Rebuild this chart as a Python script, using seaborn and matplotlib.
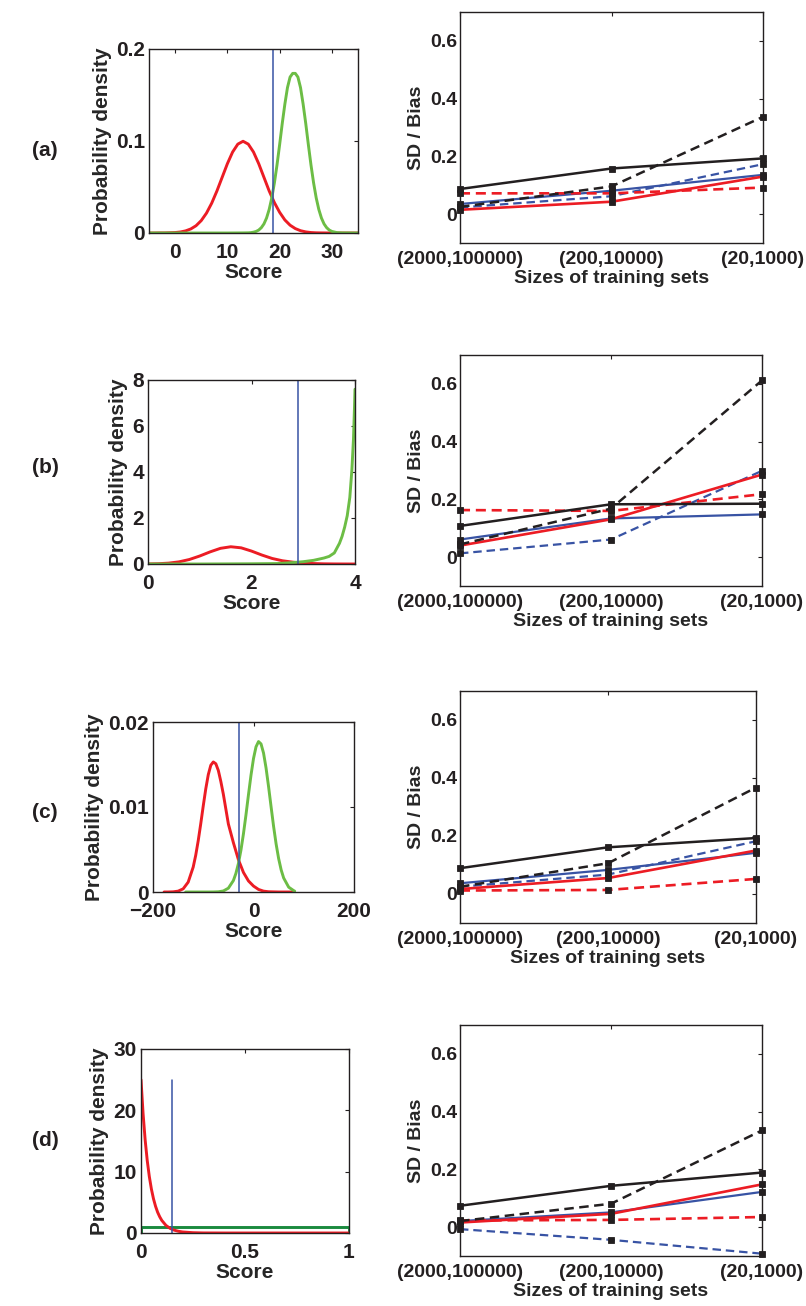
import matplotlib
matplotlib.use("Agg")
import matplotlib.pyplot as plt
import seaborn as sns

# ---------------- data ----------------
SIZES = ["(2000,100000)", "(200,10000)", "(20,1000)"]
SIZE_POS = [0, 1, 2]

# right panels: SD / Bias
A_BLACK_SOLID = [0.087, 0.158, 0.193]
A_BLACK_DASH = [0.025, 0.096, 0.337]
A_BLUE_SOLID = [0.035, 0.081, 0.136]
A_BLUE_DASH = [0.023, 0.062, 0.173]
A_RED_SOLID = [0.015, 0.043, 0.130]
A_RED_DASH = [0.072, 0.072, 0.092]

B_BLACK_SOLID = [0.108, 0.183, 0.185]
B_BLACK_DASH = [0.044, 0.168, 0.612]
B_BLUE_SOLID = [0.061, 0.134, 0.148]
B_BLUE_DASH = [0.013, 0.061, 0.299]
B_RED_SOLID = [0.040, 0.131, 0.286]
B_RED_DASH = [0.163, 0.160, 0.218]

C_BLACK_SOLID = [0.089, 0.161, 0.193]
C_BLACK_DASH = [0.025, 0.106, 0.367]
C_BLUE_SOLID = [0.037, 0.083, 0.142]
C_BLUE_DASH = [0.025, 0.067, 0.182]
C_RED_SOLID = [0.017, 0.055, 0.150]
C_RED_DASH = [0.012, 0.014, 0.052]

D_BLACK_SOLID = [0.074, 0.143, 0.189]
D_BLACK_DASH = [0.021, 0.081, 0.335]
D_BLUE_SOLID = [0.021, 0.051, 0.122]
D_BLUE_DASH = [-0.007, -0.044, -0.092]
D_RED_SOLID = [0.016, 0.046, 0.148]
D_RED_DASH = [0.023, 0.025, 0.035]

# left panels: score densities
A_RED_X = [-5, -4, -3, -2, -1, 0, 1, 2, 3, 4, 5, 6, 7, 8, 9, 10, 11, 12, 13, 14, 15, 16, 17, 18, 19,
           20, 21, 22, 23, 24, 25, 26, 27, 28, 30, 35]
A_RED_Y = [0.0, 0.0, 0.0001, 0.0001, 0.0003, 0.0005, 0.0011, 0.0023, 0.0044, 0.0079, 0.0135, 0.0216,
           0.0324, 0.0457, 0.0605, 0.0753, 0.0880, 0.0966, 0.0997, 0.0966, 0.0880, 0.0753, 0.0605,
           0.0457, 0.0330, 0.0225, 0.0142, 0.0085, 0.0048, 0.0025, 0.0012, 0.0005, 0.0002, 0.0001,
           0.0, 0.0]
A_GREEN_X = [-5, 10, 13, 14, 14.5, 15, 15.5, 16, 16.5, 17, 17.5, 18, 18.5, 19, 19.5, 20, 20.5, 21,
             21.5, 22, 22.5, 23, 23.5, 24, 24.5, 25, 25.5, 26, 26.5, 27, 27.5, 28, 28.5, 29, 29.5,
             30, 31, 32, 35]
A_GREEN_Y = [0.0, 0.0, 0.0001, 0.0002, 0.0004, 0.0009, 0.0017, 0.0032, 0.0058, 0.0099, 0.0163,
             0.0256, 0.0382, 0.0545, 0.0740, 0.0960, 0.1190, 0.1400, 0.1580, 0.1695, 0.1735,
             0.1735, 0.1695, 0.1580, 0.1400, 0.1190, 0.0960, 0.0740, 0.0545, 0.0382, 0.0256,
             0.0163, 0.0099, 0.0058, 0.0032, 0.0017, 0.0004, 0.0001, 0.0]
A_THRESH = 18.8

B_RED_X = [0, 0.2, 0.4, 0.6, 0.8, 1.0, 1.2, 1.4, 1.6, 1.8, 2.0, 2.2, 2.4, 2.6, 2.8, 3.0, 3.2, 3.4,
           3.6, 3.8, 4.0]
B_RED_Y = [0.004, 0.013, 0.038, 0.094, 0.196, 0.348, 0.527, 0.681, 0.750, 0.703, 0.562, 0.390,
           0.240, 0.140, 0.080, 0.040, 0.020, 0.008, 0.003, 0.001, 0.0]
B_GREEN_X = [0, 1.0, 2.0, 2.5, 2.8, 3.0, 3.2, 3.4, 3.5, 3.6, 3.7, 3.75, 3.8, 3.85, 3.9, 3.94, 3.97,
             3.99, 4.0]
B_GREEN_Y = [0.0, 0.0, 0.01, 0.02, 0.06, 0.10, 0.16, 0.26, 0.33, 0.48, 0.90, 1.20, 1.60, 2.10,
             2.90, 4.10, 5.40, 6.80, 7.60]
B_THRESH = 2.89

C_RED_X = [-178, -170, -160, -150, -140, -130, -120, -115, -110, -105, -100, -95, -90, -85, -80,
           -75, -70, -65, -60, -50, -40, -30, -20, -10, 0, 10, 20, 30, 50, 80]
C_RED_Y = [0.0, 0.0, 0.00002, 0.0001, 0.00037, 0.00116, 0.00293, 0.00432, 0.00604, 0.00802,
           0.01013, 0.01213, 0.0138, 0.01491, 0.0153, 0.01509, 0.0143, 0.0130, 0.0115, 0.0080,
           0.0058, 0.0038, 0.0023, 0.0013, 0.0007, 0.0003, 0.0001, 0.00003, 0.0, 0.0]
C_GREEN_X = [-135, -90, -80, -70, -60, -50, -40, -35, -30, -25, -20, -15, -10, -5, 0, 5, 10, 15,
             20, 25, 30, 35, 40, 45, 50, 55, 60, 70, 80, 82]
C_GREEN_Y = [0.0, 0.0, 0.000005, 0.000027, 0.00012, 0.00045, 0.00135, 0.00219, 0.00336, 0.00492,
             0.00685, 0.00907, 0.01145, 0.01374, 0.0157, 0.01708, 0.0177, 0.01742, 0.01634,
             0.01458, 0.01239, 0.01002, 0.00771, 0.00565, 0.00394, 0.00261, 0.00165, 0.00057,
             0.00016, 0.0001]
C_THRESH = -28

D_RED_X = [0, 0.01, 0.02, 0.03, 0.04, 0.05, 0.06, 0.07, 0.08, 0.09, 0.10, 0.12, 0.14, 0.16, 0.18,
           0.20, 0.25, 0.30, 0.40, 1.0]
D_RED_Y = [25.0, 19.47, 15.16, 11.81, 9.20, 7.16, 5.58, 4.35, 3.38, 2.64, 2.05, 1.24, 0.75, 0.46,
           0.28, 0.17, 0.05, 0.01, 0.0, 0.0]
D_GREEN_X = [0, 0, 1, 1]
D_GREEN_Y = [0, 1, 1, 0]
D_THRESH = 0.147
D_THRESH_TOP = 25

# ---------------- style ----------------
sns.set_style("white")
plt.rcParams['font.family'] = ['Liberation Sans', 'DejaVu Sans']
plt.rcParams['font.weight'] = 'bold'
plt.rcParams['axes.labelweight'] = 'bold'
plt.rcParams['axes.unicode_minus'] = True

RED = '#ec1c24'
GREEN = '#6cbd45'
DKGREEN = '#1a8a3e'
BLUE = '#3853a4'
BLACK = '#231f20'

W, H = 806, 1306
fig = plt.figure(figsize=(W / 100, H / 100), dpi=100)


def ax_at(x0, x1, y0, y1):
    return fig.add_axes([x0 / W, 1 - y1 / H, (x1 - x0) / W, (y1 - y0) / H])


def frame(ax, fs, xpad, ypad):
    for s in ax.spines.values():
        s.set_linewidth(1.0)
        s.set_color(BLACK)
    ax.tick_params(direction='in', top=True, right=True, length=3, width=0.8,
                   labelsize=fs, colors=BLACK)
    ax.tick_params(axis='x', pad=xpad)
    ax.tick_params(axis='y', pad=ypad)
    for lab in ax.get_xticklabels() + ax.get_yticklabels():
        lab.set_fontweight('bold')


def line(ax, x, y, color, lw, ls='-', marker=None):
    kw = {}
    if marker:
        kw = dict(marker=marker, markersize=4.2, markerfacecolor=BLACK,
                  markeredgecolor=BLACK, markeredgewidth=0.6, clip_on=False)
    sns.lineplot(x=x, y=y, ax=ax, color=color, linewidth=lw, linestyle=ls,
                 estimator=None, sort=False, legend=False, **kw)


LEFT_FS = 15
RIGHT_FS = 14
DASH = (0, (3.8, 2.2))


def left_panel(box, curves, thresh, ylim_top, xlim, xticks, xticklabels, yticks, yticklabels,
               thresh_top=None):
    ax = ax_at(*box)
    for (x, y, c) in curves:
        line(ax, x, y, c, 2.1)
    top = ylim_top if thresh_top is None else thresh_top
    line(ax, [thresh, thresh], [0, top], BLUE, 1.1)
    ax.set_xlim(*xlim)
    ax.set_ylim(0, ylim_top)
    ax.set_xticks(xticks)
    ax.set_xticklabels(xticklabels)
    ax.set_yticks(yticks)
    ax.set_yticklabels(yticklabels)
    ax.set_xlabel("Score", fontsize=LEFT_FS, fontweight='bold', labelpad=1)
    ax.set_ylabel("Probability density", fontsize=LEFT_FS, fontweight='bold', labelpad=3)
    frame(ax, LEFT_FS, 7, 3)
    return ax


def right_panel(box, bs, bd, us, ud, rs, rd):
    ax = ax_at(*box)
    line(ax, SIZE_POS, ud, BLUE, 1.6, DASH, 's')
    line(ax, SIZE_POS, us, BLUE, 1.6, '-', 's')
    line(ax, SIZE_POS, rd, RED, 1.9, DASH, 's')
    line(ax, SIZE_POS, rs, RED, 1.9, '-', 's')
    line(ax, SIZE_POS, bd, BLACK, 1.8, DASH, 's')
    line(ax, SIZE_POS, bs, BLACK, 1.8, '-', 's')
    ax.set_xlim(0, 2)
    ax.set_ylim(-0.1, 0.7)
    ax.set_xticks(SIZE_POS)
    ax.set_xticklabels(SIZES)
    ax.set_yticks([0, 0.2, 0.4, 0.6])
    ax.set_yticklabels(['0', '0.2', '0.4', '0.6'])
    ax.set_xlabel("Sizes of training sets", fontsize=RIGHT_FS, fontweight='bold', labelpad=1)
    ax.set_ylabel("SD / Bias", fontsize=RIGHT_FS, fontweight='bold', labelpad=4)
    frame(ax, RIGHT_FS, 6, 2)
    return ax


# (a)
left_panel((149, 358, 49, 233), [(A_RED_X, A_RED_Y, RED), (A_GREEN_X, A_GREEN_Y, GREEN)],
           A_THRESH, 0.2, (-5, 35), [0, 10, 20, 30], ['0', '10', '20', '30'],
           [0, 0.1, 0.2], ['0', '0.1', '0.2'])
right_panel((460, 763, 12, 243), A_BLACK_SOLID, A_BLACK_DASH, A_BLUE_SOLID, A_BLUE_DASH,
            A_RED_SOLID, A_RED_DASH)

# (b)
left_panel((148, 355, 380, 564), [(B_RED_X, B_RED_Y, RED), (B_GREEN_X, B_GREEN_Y, GREEN)],
           B_THRESH, 8, (0, 4), [0, 2, 4], ['0', '2', '4'],
           [0, 2, 4, 6, 8], ['0', '2', '4', '6', '8'])
right_panel((460, 762, 355, 586), B_BLACK_SOLID, B_BLACK_DASH, B_BLUE_SOLID, B_BLUE_DASH,
            B_RED_SOLID, B_RED_DASH)

# (c)
left_panel((153, 354, 722, 892), [(C_RED_X, C_RED_Y, RED), (C_GREEN_X, C_GREEN_Y, GREEN)],
           C_THRESH, 0.02, (-200, 200), [-200, 0, 200], ['\u2212200', '0', '200'],
           [0, 0.01, 0.02], ['0', '0.01', '0.02'])
right_panel((460, 756, 691, 923), C_BLACK_SOLID, C_BLACK_DASH, C_BLUE_SOLID, C_BLUE_DASH,
            C_RED_SOLID, C_RED_DASH)

# (d)
left_panel((141, 349, 1049, 1233), [(D_GREEN_X, D_GREEN_Y, DKGREEN), (D_RED_X, D_RED_Y, RED)],
           D_THRESH, 30, (0, 1), [0, 0.5, 1], ['0', '0.5', '1'],
           [0, 10, 20, 30], ['0', '10', '20', '30'], thresh_top=D_THRESH_TOP)
right_panel((460, 762, 1025, 1256), D_BLACK_SOLID, D_BLACK_DASH, D_BLUE_SOLID, D_BLUE_DASH,
            D_RED_SOLID, D_RED_DASH)

PANEL_LABELS = ["(a)", "(b)", "(c)", "(d)"]
PANEL_LABEL_Y = [150, 467, 812, 1140]
for lab, yy in zip(PANEL_LABELS, PANEL_LABEL_Y):
    fig.text(45 / W, 1 - yy / H, lab, fontsize=LEFT_FS, fontweight='bold', color=BLACK,
             ha='center', va='center')

fig.savefig("out.png", dpi=100, facecolor='white')
